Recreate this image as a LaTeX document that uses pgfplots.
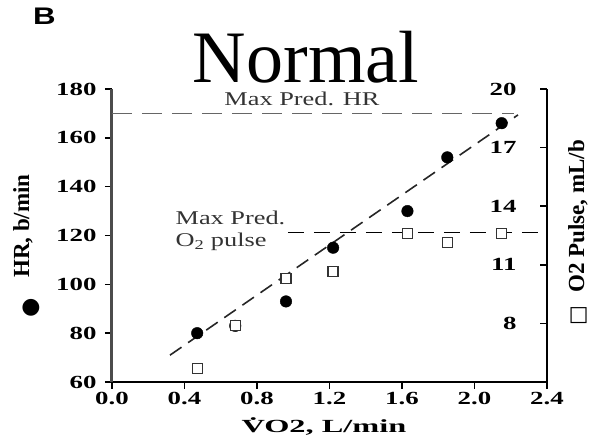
\documentclass[border=0pt]{standalone}
\usepackage{fontspec}
\setmainfont{Liberation Serif}
\newfontfamily\wserif[FakeStretch=1.45]{Liberation Serif}
\newfontfamily\aserif[FakeStretch=1.35]{Liberation Serif}
\newfontfamily\xserif[FakeStretch=1.75]{Liberation Serif}
\newfontfamily\bsans[FakeStretch=1.3]{Liberation Sans}
\newfontfamily\dejavu{DejaVu Sans}
\usepackage{pgfplots}
\pgfplotsset{compat=1.18}
\begin{document}
\begin{tikzpicture}
\begin{axis}[name=ax, scale only axis, width=435pt, height=293pt,
  xmin=0, xmax=2.4, ymin=60, ymax=180,
  axis x line*=bottom, axis y line*=left, axis line style={-},
  x axis line style={black, line width=1.6pt},
  y axis line style={black!70, line width=3pt},
  xtick={0,0.4,0.8,1.2,1.6,2.0,2.4}, ytick={60,80,100,120,140,160,180},
  tick align=outside, major tick length=7pt,
  tick style={black, line width=1.5pt},
  xticklabel style={/pgf/number format/.cd, fixed, fixed zerofill, precision=1},
  yticklabel style={xshift=-5pt},
  ticklabel style={font=\wserif\bfseries\fontsize{18.5}{18.5}\selectfont},
  /pgf/number format/assume math mode=true,
  clip=false]
\addplot[black!60, line width=1.8pt, dash pattern=on 20pt off 10pt] coordinates {(0,170) (2.22,170)};
\addplot[black!85, line width=1.6pt, dash pattern=on 14pt off 8pt] coordinates {(0.32,71) (2.24,169.4)};
\addplot[only marks, mark=*, mark size=5.8pt, black] coordinates {
(0.47,80) (0.68,83) (0.96,93) (1.22,115) (1.63,130) (1.85,152) (2.15,166)};
\node[anchor=base, inner sep=0, text=black!80, font=\aserif\fontsize{19.5}{19.5}\selectfont] at (axis cs:1.048,173.1) {Max Pred. HR};
\node[anchor=base west, inner sep=0, text=black!80, font=\aserif\fontsize{19.5}{19.5}\selectfont] at (axis cs:0.35,124.6) {Max Pred.};
\node[anchor=base west, inner sep=0, text=black!80, font=\aserif\fontsize{19.5}{19.5}\selectfont] at (axis cs:0.35,115.6) {O\textsubscript{2} pulse};
\end{axis}
\begin{axis}[scale only axis, width=435pt, height=293pt,
  xmin=0, xmax=2.4, ymin=5, ymax=20,
  axis y line*=right, axis x line=none, axis line style={-},
  y axis line style={black, line width=1.8pt},
  ytick={8,11,14,17,20},
  tick align=inside, major tick length=7pt,
  tick style={black, line width=1.5pt},
  yticklabel style={anchor=east, xshift=-27pt},
  ticklabel style={font=\wserif\bfseries\fontsize{18.5}{18.5}\selectfont},
  /pgf/number format/assume math mode=true,
  clip=false]
\addplot[black, line width=1.5pt, dash pattern=on 16pt off 10pt] coordinates {(0.97,12.65) (2.4,12.65)};
\addplot[only marks, mark=square*, mark size=5pt, mark options={fill=white, draw=black!80, line width=1.3pt}] coordinates {
(0.47,5.7) (0.68,7.9) (0.96,10.3) (1.22,10.65) (1.63,12.6) (1.85,12.15) (2.15,12.6)};
\end{axis}
\node[anchor=base, inner sep=0, font=\fontsize{74}{74}\selectfont] at ([shift={(194pt,299pt)}]ax.south west) {Normal};
\node[anchor=base west, inner sep=0, font=\bsans\bfseries\fontsize{24}{24}\selectfont] at ([shift={(-79pt,357pt)}]ax.south west) {B};
\node[rotate=90, anchor=west, inner sep=0, font=\bfseries\fontsize{23}{23}\selectfont] at ([shift={(-89pt,104pt)}]ax.south west) {HR, b/min};
\node[inner sep=0, font=\dejavu\fontsize{22}{22}\selectfont] at ([shift={(-81pt,74pt)}]ax.south west) {●};
\node[rotate=90, anchor=west, inner sep=0, font=\bfseries\fontsize{23}{23}\selectfont] at ([shift={(31pt,89pt)}]ax.south east) {O2 Pulse, mL/b};
\node[inner sep=0, rotate=90, font=\dejavu\fontsize{21}{21}\selectfont] at ([shift={(32pt,66pt)}]ax.south east) {□};
\node[anchor=base, inner sep=0, font=\xserif\bfseries\fontsize{18.5}{18.5}\selectfont] at ([shift={(212pt,-51pt)}]ax.south west) {\.{V}O2, L/min};
\pgfresetboundingbox
\path ([shift={(-112pt,-60pt)}]ax.south west) rectangle ([shift={(48pt,89pt)}]ax.north east);
\end{tikzpicture}
\end{document}
